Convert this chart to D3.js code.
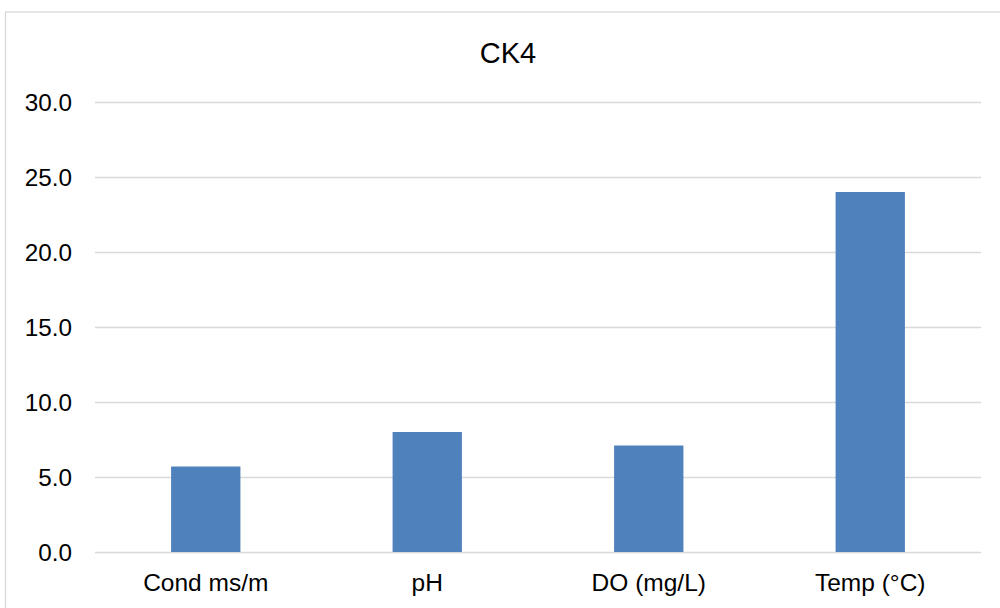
<!DOCTYPE html>
<html>
<head>
<meta charset="utf-8">
<script src="https://cdn.jsdelivr.net/npm/d3@7"></script>
<style>
  html, body { margin: 0; padding: 0; background: #fff; }
  svg { display: block; font-family: "Liberation Sans", Arial, sans-serif; }
</style>
</head>
<body>
<svg id="chart" width="1000" height="608"></svg>
<script>
// Water-quality readings for site CK4
const categories = ["Cond ms/m", "pH", "DO (mg/L)", "Temp (°C)"];
const values = [5.7, 8.0, 7.1, 24.0];
const yTicks = [0, 5, 10, 15, 20, 25, 30];
const chartTitle = "CK4";

const svg = d3.select("#chart");
const W = 1000, H = 608;
const plot = { left: 95, right: 981, top: 102, bottom: 552 };

// Outer chart frame
svg.append("rect")
  .attr("x", 5.5).attr("y", 12)
  .attr("width", W + 10).attr("height", H + 10)
  .attr("fill", "#fff")
  .attr("stroke", "#d9d9d9")
  .attr("stroke-width", 1.3);

const x = d3.scaleBand()
  .domain(categories)
  .range([plot.left, plot.right])
  .paddingInner(0.687)
  .paddingOuter(0.3435);

const y = d3.scaleLinear()
  .domain([0, 30])
  .range([plot.bottom, plot.top]);

// Horizontal gridlines and value labels
const yAxis = d3.axisLeft(y)
  .tickValues(yTicks)
  .tickSize(-(plot.right - plot.left))
  .tickPadding(23)
  .tickFormat(d3.format(".1f"));

const gy = svg.append("g")
  .attr("transform", `translate(${plot.left},0)`)
  .call(yAxis);
gy.select(".domain").remove();
gy.selectAll(".tick line")
  .attr("stroke", "#d9d9d9")
  .attr("stroke-width", 1.3);
gy.selectAll(".tick text")
  .attr("fill", "#000")
  .attr("font-size", "24.3px")
  .attr("dy", "0.36em");

// Bars
svg.append("g")
  .selectAll("rect")
  .data(values)
  .join("rect")
  .attr("x", (d, i) => x(categories[i]))
  .attr("y", d => y(d))
  .attr("width", x.bandwidth())
  .attr("height", d => y(0) - y(d))
  .attr("fill", "#4f81bd");

// Category labels
const xAxis = d3.axisBottom(x).tickSize(0).tickPadding(39);
const gx = svg.append("g")
  .attr("transform", `translate(0,${plot.bottom})`)
  .call(xAxis);
gx.select(".domain").remove();
gx.selectAll(".tick text")
  .attr("fill", "#000")
  .attr("font-size", "24.5px")
  .attr("dy", "0");

// Title
svg.append("text")
  .attr("x", 508)
  .attr("y", 62.5)
  .attr("text-anchor", "middle")
  .attr("font-size", "29px")
  .attr("fill", "#000")
  .text(chartTitle);
</script>
</body>
</html>
